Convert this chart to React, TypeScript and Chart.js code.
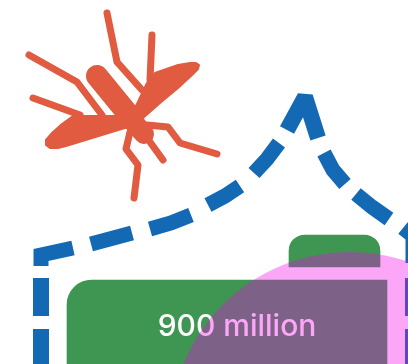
import React, { useEffect, useRef } from "react";
import { Chart, registerables } from "chart.js";

Chart.register(...registerables);

const BLUE = "#1469b4";
const GREEN = "#3e9652";
const RED = "#e05b40";

const caption = "900 million";

// Dashed outline of the house; null entries break the line between dashes
const roofX = [41, 41, 73, null, 91, 132, null, 150, 171, 191, null, 208, 225, 240, null, 254, 267, 279, null, 324, 333, 345, null, 356, 372, 389, null, 403, 413, 413];
const roofY = [266, 255, 248, null, 244, 233, null, 229, 223, 215, null, 205, 196, 186, null, 173, 159, 143, null, 153, 170, 184, null, 194, 207, 219, null, 228, 236, 263];
const peakX = [287, 305, 318];
const peakY = [130, 97, 138];
const wallX = [41, 41, null, 41, 41, null, 413, 413, null, 413, 413];
const wallY = [278, 316, null, 329, 372, null, 278, 316, null, 329, 372];

// Insect: wings and body
const wingLeftX = [73, 62, 52, 46, 46, 50, 58, 66, 128, 118];
const wingLeftY = [116, 124, 133, 140, 145, 148, 148, 146, 127, 116];
const wingRightX = [143, 160, 178, 192, 198, 199, 196, 190, 178, 155, 147, 135];
const wingRightY = [118, 103, 88, 75, 69, 65, 63, 63, 65, 73, 83, 108];
const abdomenX = [97, 133];
const abdomenY = [76, 120];
const thoraxX = [130, 144];
const thoraxY = [118, 134];

// Insect: legs
const legUpperX = [107, 117, 142];
const legUpperY = [13, 62, 90];
const legAntennaX = [152, 150];
const legAntennaY = [35, 80];
const legLeftAX = [29, 77, 102];
const legLeftAY = [55, 82, 115];
const legLeftBX = [33, 80];
const legLeftBY = [98, 115];
const legRightX = [147, 168, 180, 217];
const legRightY = [125, 127, 143, 154];
const legLowerX = [130, 126, 138, 134];
const legLowerY = [132, 149, 165, 198];
const legShortX = [150, 163];
const legShortY = [142, 160];

// Green blocks: centre and vertical extent
const blockBody = { x: 227, y: [280, 400] };
const blockCap = { x: 334.5, y: [235, 267] };

const overlap = [{ x: 350, y: 432, r: 180 }];

const zip = (xs: (number | null)[], ys: (number | null)[]) =>
  xs.map((x, i) => ({ x, y: ys[i] }));

const stroke = (xs: number[], ys: number[], width: number) => ({
  type: "scatter",
  data: zip(xs, ys),
  showLine: true,
  pointRadius: 0,
  borderColor: RED,
  borderWidth: width,
  borderCapStyle: "round",
  borderJoinStyle: "round",
});

const shape = (xs: number[], ys: number[]) => ({
  type: "scatter",
  data: zip([...xs, xs[0]], [...ys, ys[0]]),
  showLine: true,
  pointRadius: 0,
  fill: "shape",
  backgroundColor: RED,
  borderColor: RED,
  borderWidth: 2,
  borderJoinStyle: "round",
});

// Puts the caption on the large green block, beneath the translucent circle
const captionPlugin = {
  id: "caption",
  afterDatasetDraw(chart: any, args: any) {
    if (chart.data.datasets[args.index].label !== "body") return;
    const { ctx, scales } = chart;
    ctx.save();
    ctx.font = '500 30px Inter, "Noto Sans", sans-serif';
    ctx.fillStyle = "#ffffff";
    ctx.textAlign = "center";
    ctx.textBaseline = "alphabetic";
    ctx.fillText(caption, scales.x.getPixelForValue(237), scales.y.getPixelForValue(336));
    ctx.restore();
  },
};

export default function App() {
  const ref = useRef<HTMLCanvasElement>(null);

  useEffect(() => {
    const chart = new Chart(ref.current!, {
      type: "scatter",
      data: {
        datasets: [
          {
            type: "bubble",
            data: overlap,
            backgroundColor: "rgba(245,0,231,0.35)",
            borderWidth: 0,
            clip: false,
          },
          {
            type: "scatter",
            data: zip(wallX, wallY),
            showLine: true,
            pointRadius: 0,
            borderColor: BLUE,
            borderWidth: 16,
          },
          {
            type: "scatter",
            data: zip(roofX, roofY),
            showLine: true,
            pointRadius: 0,
            borderColor: BLUE,
            borderWidth: 15,
            borderJoinStyle: "miter",
          },
          {
            type: "scatter",
            data: zip(peakX, peakY),
            showLine: true,
            pointRadius: 0,
            borderColor: BLUE,
            borderWidth: 16,
            borderJoinStyle: "bevel",
          },
          shape(wingLeftX, wingLeftY),
          shape(wingRightX, wingRightY),
          stroke(abdomenX, abdomenY, 22),
          stroke(thoraxX, thoraxY, 20),
          stroke(legUpperX, legUpperY, 7),
          stroke(legAntennaX, legAntennaY, 7),
          stroke(legLeftAX, legLeftAY, 7),
          stroke(legLeftBX, legLeftBY, 7),
          stroke(legRightX, legRightY, 7),
          stroke(legLowerX, legLowerY, 7),
          stroke(legShortX, legShortY, 7),
          {
            type: "bar",
            data: [blockCap],
            grouped: false,
            barThickness: 91,
            backgroundColor: GREEN,
            borderRadius: { topLeft: 26, topRight: 26, bottomLeft: 0, bottomRight: 0 },
            borderSkipped: false,
          },
          {
            type: "bar",
            label: "body",
            data: [blockBody],
            grouped: false,
            barThickness: 320,
            backgroundColor: GREEN,
            borderRadius: { topLeft: 25, topRight: 0, bottomLeft: 0, bottomRight: 0 },
            borderSkipped: false,
          },
        ],
      } as any,
      options: {
        responsive: false,
        animation: false,
        layout: { padding: 0, autoPadding: false },
        plugins: { legend: { display: false }, tooltip: { enabled: false } },
        scales: {
          x: { type: "linear", min: 0, max: 408, display: false, offset: false },
          y: { type: "linear", min: 0, max: 364, reverse: true, display: false, offset: false },
        },
      } as any,
      plugins: [captionPlugin],
    });
    return () => chart.destroy();
  }, []);

  return (
    <canvas
      ref={ref}
      width={408}
      height={364}
      style={{ position: "absolute", left: 0, top: 0 }}
    />
  );
}
